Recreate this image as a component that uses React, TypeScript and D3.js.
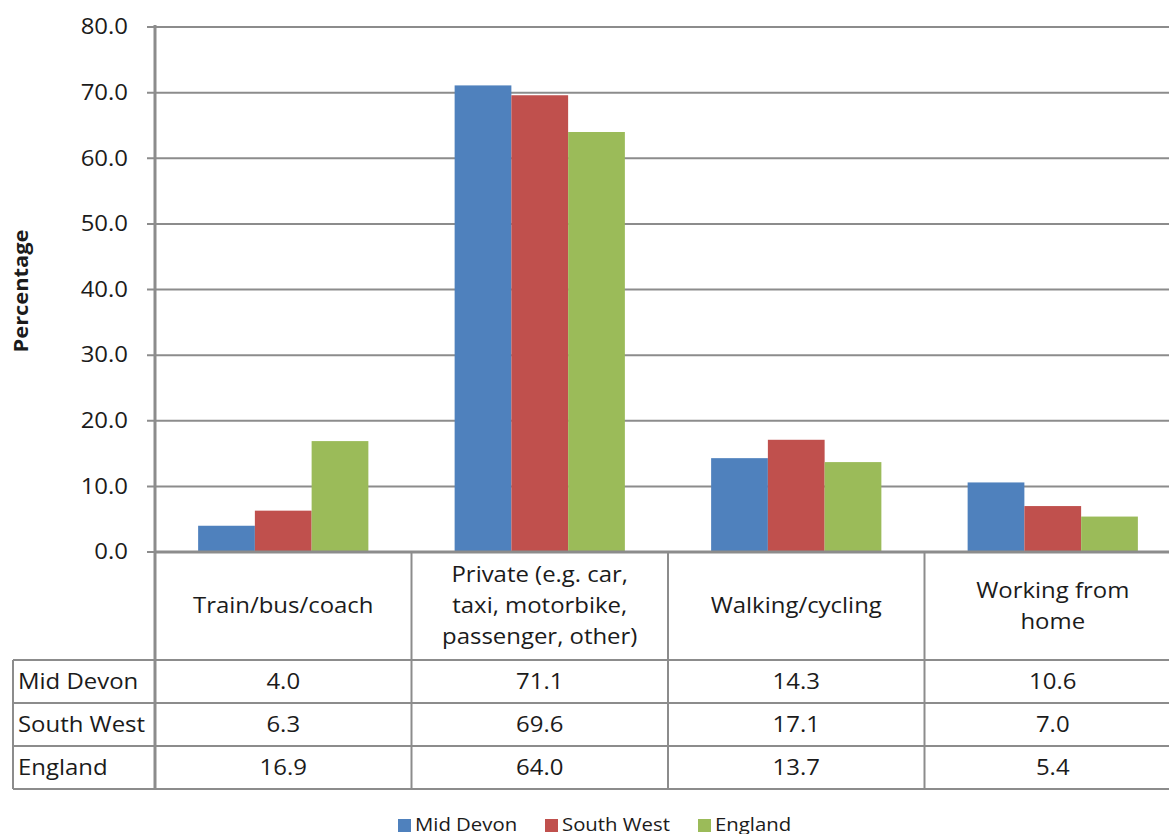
import React from "react";
import * as d3 from "d3";

const categories = [
  ["Train/bus/coach"],
  ["Private (e.g. car,", "taxi, motorbike,", "passenger, other)"],
  ["Walking/cycling"],
  ["Working from", "home"],
];
const seriesNames = ["Mid Devon", "South West", "England"];
const midDevon = [4.0, 71.1, 14.3, 10.6];
const southWest = [6.3, 69.6, 17.1, 7.0];
const england = [16.9, 64.0, 13.7, 5.4];
const colors = ["#4F81BD", "#C0504D", "#9BBB59"];
const yTicks = [0, 10, 20, 30, 40, 50, 60, 70, 80];

const series = [midDevon, southWest, england];

const W = 1169;
const H = 834;
const plotLeft = 155;
const plotRight = 1181;
const plotTop = 27;
const plotBottom = 552;
const headerBottom = 660;
const rowH = 43;
const tableLeft = 13;
const font = "'Open Sans', sans-serif";
const fs = 21;
const stretch = 1.14;
const textColor = "#1b1b1b";
const lineColor = "#8c8c8c";

type TxtProps = {
  x: number;
  y: number;
  anchor?: "start" | "middle" | "end";
  size?: number;
  weight?: string;
  rotate?: number;
  sx?: number;
  children: React.ReactNode;
};

// Text laid out at (x, y), vertically centred, widened along its baseline.
function Txt({ x, y, anchor = "start", size = fs, weight = "normal", rotate = 0, sx = stretch, children }: TxtProps) {
  return (
    <text
      transform={`translate(${x},${y}) rotate(${rotate}) scale(${sx},1)`}
      x={0}
      y={0}
      dy="0.35em"
      textAnchor={anchor}
      fontFamily={font}
      fontSize={size}
      fontWeight={weight}
      fill={textColor}
    >
      {children}
    </text>
  );
}

export default function App() {
  const idx = categories.map((_, i) => i);
  const x = d3.scaleBand<number>().domain(idx).range([plotLeft, plotRight]).paddingInner(0).paddingOuter(0);
  const inner = d3
    .scaleBand<number>()
    .domain([0, 1, 2])
    .range([0, x.bandwidth()])
    .paddingOuter(0.76)
    .paddingInner(0);
  const y = d3.scaleLinear().domain([0, 80]).range([plotBottom, plotTop]);
  const tableBottom = headerBottom + rowH * seriesNames.length;

  return (
    <svg width={W} height={H} style={{ position: "absolute", left: 0, top: 0, background: "#fff" }}>
      <rect x={0} y={0} width={W} height={H} fill="#fff" />
      {/* gridlines */}
      {yTicks.map((t) => (
        <line key={"g" + t} x1={plotLeft - 8} x2={plotRight} y1={y(t)} y2={y(t)} stroke={lineColor} strokeWidth={2} />
      ))}
      {/* y tick labels */}
      {yTicks.map((t) => (
        <Txt key={"t" + t} x={128} y={y(t)} anchor="end">
          {t.toFixed(1)}
        </Txt>
      ))}
      {/* bars */}
      {series.map((vals, s) =>
        vals.map((v, c) => (
          <rect
            key={`b${s}-${c}`}
            x={(x(c) as number) + (inner(s) as number)}
            y={y(v)}
            width={inner.bandwidth()}
            height={y(0) - y(v)}
            fill={colors[s]}
          />
        ))
      )}
      {/* axes */}
      <line x1={plotLeft} x2={plotLeft} y1={plotTop - 2} y2={tableBottom} stroke={lineColor} strokeWidth={3} />
      <line x1={plotLeft} x2={plotRight} y1={plotBottom} y2={plotBottom} stroke={lineColor} strokeWidth={3} />
      {/* data table */}
      {idx.map((c) => (
        <line
          key={"v" + c}
          x1={(x(c) as number) + x.bandwidth()}
          x2={(x(c) as number) + x.bandwidth()}
          y1={plotBottom}
          y2={tableBottom}
          stroke={lineColor}
          strokeWidth={2}
        />
      ))}
      <line x1={tableLeft} x2={tableLeft} y1={headerBottom} y2={tableBottom} stroke={lineColor} strokeWidth={2} />
      {[0, 1, 2, 3].map((r) => (
        <line
          key={"h" + r}
          x1={tableLeft}
          x2={plotRight}
          y1={headerBottom + r * rowH}
          y2={headerBottom + r * rowH}
          stroke={lineColor}
          strokeWidth={2}
        />
      ))}
      {categories.map((lines, c) => {
        const cx = (x(c) as number) + x.bandwidth() / 2;
        const cy = (plotBottom + headerBottom) / 2;
        const lh = 31;
        return lines.map((l, i) => (
          <Txt key={`c${c}-${i}`} x={cx} y={cy + (i - (lines.length - 1) / 2) * lh} anchor="middle">
            {l}
          </Txt>
        ));
      })}
      {seriesNames.map((n, s) => (
        <g key={"r" + s}>
          <Txt x={18} y={headerBottom + s * rowH + rowH / 2}>
            {n}
          </Txt>
          {series[s].map((v, c) => (
            <Txt
              key={c}
              x={(x(c) as number) + x.bandwidth() / 2}
              y={headerBottom + s * rowH + rowH / 2}
              anchor="middle"
            >
              {v.toFixed(1)}
            </Txt>
          ))}
        </g>
      ))}
      {/* y axis title */}
      <Txt x={21} y={291} anchor="middle" size={19} weight="bold" rotate={-90} sx={1.15}>
        Percentage
      </Txt>
      {/* legend */}
      {[
        [398, 415],
        [545, 562],
        [698, 715],
      ].map(([sx, tx], s) => (
        <g key={"l" + s}>
          <rect x={sx} y={819} width={13} height={13} fill={colors[s]} />
          <Txt x={tx} y={825} size={18} sx={1.13}>
            {seriesNames[s]}
          </Txt>
        </g>
      ))}
    </svg>
  );
}
